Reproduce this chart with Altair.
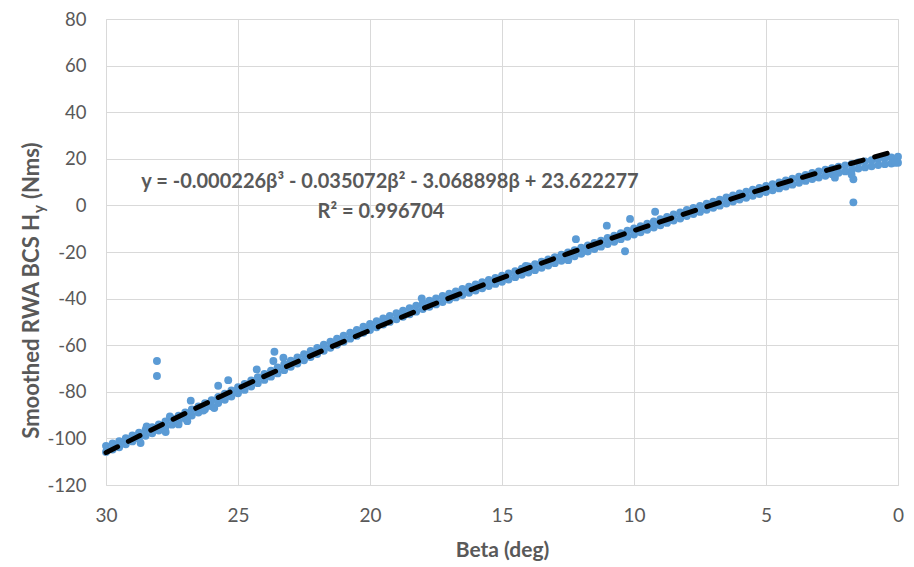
import altair as alt
import pandas as pd

# ---- data ----
# dense band of points: beta positions (every 0.25 deg) and the band's upper / lower edge readings
beta_band = [30, 29.75, 29.5, 29.25, 29, 28.75, 28.5, 28.25, 28, 27.75, 27.5, 27.25,
             27, 26.75, 26.5, 26.25, 26, 25.75, 25.5, 25.25, 25, 24.75, 24.5, 24.25,
             24, 23.75, 23.5, 23.25, 23, 22.75, 22.5, 22.25, 22, 21.75, 21.5, 21.25,
             21, 20.75, 20.5, 20.25, 20, 19.75, 19.5, 19.25, 19, 18.75, 18.5, 18.25,
             18, 17.75, 17.5, 17.25, 17, 16.75, 16.5, 16.25, 16, 15.75, 15.5, 15.25,
             15, 14.75, 14.5, 14.25, 14, 13.75, 13.5, 13.25, 13, 12.75, 12.5, 12.25,
             12, 11.75, 11.5, 11.25, 11, 10.75, 10.5, 10.25, 10, 9.75, 9.5, 9.25,
             9, 8.75, 8.5, 8.25, 8, 7.75, 7.5, 7.25, 7, 6.75, 6.5, 6.25,
             6, 5.75, 5.5, 5.25, 5, 4.75, 4.5, 4.25, 4, 3.75, 3.5, 3.25,
             3, 2.75, 2.5, 2.25, 2, 1.75, 1.5, 1.25, 1, 0.75, 0.5, 0.25,
             0]
h_band_upper = [-103.2, -102.2, -101.2, -99.9, -98.7, -97.5, -96.3, -95.2, -94.0, -92.7, -91.5, -90.2,
                -88.9, -87.6, -86.3, -84.9, -83.6, -82.2, -80.8, -79.4, -78.0, -76.6, -75.1, -73.7,
                -72.3, -70.9, -69.5, -68.1, -66.7, -65.3, -63.9, -62.5, -61.2, -59.8, -58.5, -57.2,
                -55.9, -54.6, -53.4, -52.1, -50.9, -49.7, -48.5, -47.4, -46.3, -45.2, -44.1, -43.0,
                -41.9, -40.9, -39.9, -38.9, -37.9, -36.9, -35.9, -34.9, -33.9, -33.0, -32.0, -31.1,
                -30.2, -29.2, -28.2, -27.2, -26.2, -25.2, -24.2, -23.2, -22.2, -21.2, -20.2, -19.2,
                -18.2, -17.2, -16.1, -15.1, -14.0, -13.0, -11.9, -10.9, -9.9, -8.9, -7.9, -6.9,
                -5.9, -4.9, -3.9, -3.0, -2.0, -1.1, -0.2, 0.7, 1.6, 2.5, 3.4, 4.3,
                5.1, 5.9, 6.7, 7.5, 8.3, 9.1, 9.9, 10.7, 11.5, 12.3, 13.1, 13.9,
                14.6, 15.3, 16.0, 16.6, 17.2, 17.8, 18.4, 18.9, 19.4, 19.9, 20.3, 20.6,
                20.9]
h_band_lower = [-105.8, -104.8, -103.8, -102.5, -101.3, -100.1, -98.9, -97.8, -96.6, -95.3, -94.1, -92.8,
                -91.5, -90.2, -88.9, -87.5, -86.2, -84.8, -83.4, -82.0, -80.6, -79.2, -77.7, -76.3,
                -74.9, -73.5, -72.1, -70.7, -69.3, -67.9, -66.5, -65.1, -63.8, -62.4, -61.1, -59.8,
                -58.5, -57.2, -56.0, -54.7, -53.5, -52.3, -51.1, -50.0, -48.9, -47.8, -46.7, -45.6,
                -44.5, -43.5, -42.5, -41.5, -40.5, -39.5, -38.5, -37.5, -36.5, -35.6, -34.6, -33.7,
                -32.8, -31.8, -30.8, -29.8, -28.8, -27.8, -26.8, -25.8, -24.8, -23.8, -22.8, -21.8,
                -20.8, -19.8, -18.7, -17.7, -16.6, -15.6, -14.5, -13.5, -12.5, -11.5, -10.5, -9.5,
                -8.5, -7.5, -6.5, -5.6, -4.6, -3.7, -2.8, -1.9, -1.0, -0.1, 0.8, 1.7,
                2.5, 3.3, 4.1, 4.9, 5.7, 6.5, 7.3, 8.1, 8.9, 9.7, 10.5, 11.3,
                12.0, 12.7, 13.4, 14.0, 14.6, 15.2, 15.8, 16.3, 16.8, 17.3, 17.7, 18.0,
                18.3]

# scattered points off the band
beta_out = [28.07, 28.07, 25.75, 25.37, 25.49, 25.9, 26.79, 26.31, 26.92, 27.25, 27.74, 28.46, 28.69, 27.58,
            23.62, 23.28, 23.66, 24.29, 18.04, 10.34, 11.03, 12.49, 10.15, 9.2, 1.69, 2.39, 1.69, 1.76, 0.11,
            12.2, 12.9, 14.1]
h_out = [-66.8, -73.2, -77.4, -75, -82.4, -87, -83.8, -88, -92.6, -94, -97.3, -94.9, -102, -90.6,
         -62.8, -65.4, -66.8, -70.4, -39.9, -19.7, -8.7, -23.5, -5.8, -2.7, 1.3, 11.9, 11.2, 13.3, 18.3,
         -14.5, -22.5, -26]

# polynomial trendline
beta_trend = [30, 27.5, 25, 22.5, 20, 17.5, 15, 12.5, 10, 7.5, 5, 2.5, 0]
h_trend = [-106.1, -92.0, -78.5, -65.8, -53.6, -42.0, -31.1, -20.7, -10.8, -1.5, 7.4, 15.7, 23.6]

eq_text = ["y = -0.000226β³ - 0.035072β² - 3.068898β + 23.622277"]
r2_text = ["R² = 0.996704"]

FONT = "Lato"
GREY = "#595959"
BLUE = "#5B9BD5"

pts = pd.DataFrame({
    "beta": beta_band + beta_band + beta_out,
    "h": h_band_upper + h_band_lower + h_out,
})
trend = pd.DataFrame({"beta": beta_trend, "h": h_trend})

xscale = alt.Scale(domain=[0, 30], reverse=True, nice=False, zero=False)
yscale = alt.Scale(domain=[-120, 80], nice=False, zero=False)

xaxis = alt.Axis(values=[0, 5, 10, 15, 20, 25, 30], title="Beta (deg)", grid=True, gridColor="#D9D9D9",
                 domain=False, ticks=False, labelFlush=False, labelFont=FONT, labelFontSize=19,
                 labelColor=GREY, labelPadding=21, titleFont=FONT, titleFontSize=21,
                 titleFontWeight="bold", titleColor=GREY, titlePadding=14)
yaxis = alt.Axis(values=list(range(-120, 81, 20)), title="", grid=True, gridColor="#D9D9D9",
                 domain=False, ticks=False, labelFlush=False, labelFont=FONT, labelFontSize=18.5,
                 labelColor=GREY, labelPadding=20,
                 labelExpr="replace(datum.label, '\u2212', '-')")

scatter = alt.Chart(pts).mark_circle(size=62, color=BLUE, opacity=1).encode(
    x=alt.X("beta:Q", scale=xscale, axis=xaxis),
    y=alt.Y("h:Q", scale=yscale, axis=yaxis),
)

line = alt.Chart(trend).mark_line(color="black", strokeWidth=5, strokeDash=[13, 12],
                                  strokeCap="round", interpolate="monotone").encode(
    x=alt.X("beta:Q", scale=xscale),
    y=alt.Y("h:Q", scale=yscale),
)

eq = alt.Chart(pd.DataFrame({"t": eq_text})).mark_text(
    font=FONT, fontSize=20, fontWeight="bold", color=GREY, align="center", baseline="middle"
).encode(text="t:N", x=alt.value(284), y=alt.value(163))

r2 = alt.Chart(pd.DataFrame({"t": r2_text})).mark_text(
    font=FONT, fontSize=20, fontWeight="bold", color=GREY, align="center", baseline="middle"
).encode(text="t:N", x=alt.value(275), y=alt.value(193))

ytitle_main = alt.Chart(pd.DataFrame({"t": ["Smoothed RWA BCS H"]})).mark_text(
    font=FONT, fontSize=22, fontWeight="bold", color=GREY, align="right", baseline="middle", angle=270
).encode(text="t:N", x=alt.value(-74), y=alt.value(195))

ytitle_sub = alt.Chart(pd.DataFrame({"t": ["y"]})).mark_text(
    font=FONT, fontSize=15, fontWeight="bold", color=GREY, align="left", baseline="middle", angle=270
).encode(text="t:N", x=alt.value(-67), y=alt.value(194))

ytitle_unit = alt.Chart(pd.DataFrame({"t": ["(Nms)"]})).mark_text(
    font=FONT, fontSize=22, fontWeight="bold", color=GREY, align="left", baseline="middle", angle=270
).encode(text="t:N", x=alt.value(-74), y=alt.value(180))

chart = alt.layer(scatter, line, eq, r2, ytitle_main, ytitle_sub, ytitle_unit).properties(
    width=792, height=466,
    autosize=alt.AutoSizeParams(type="none"),
    padding={"left": 98, "top": 11, "right": 8, "bottom": 80},
).configure_view(stroke=None).configure(background="white")

chart.save("out.html", embed_options={"renderer": "svg", "actions": False})
